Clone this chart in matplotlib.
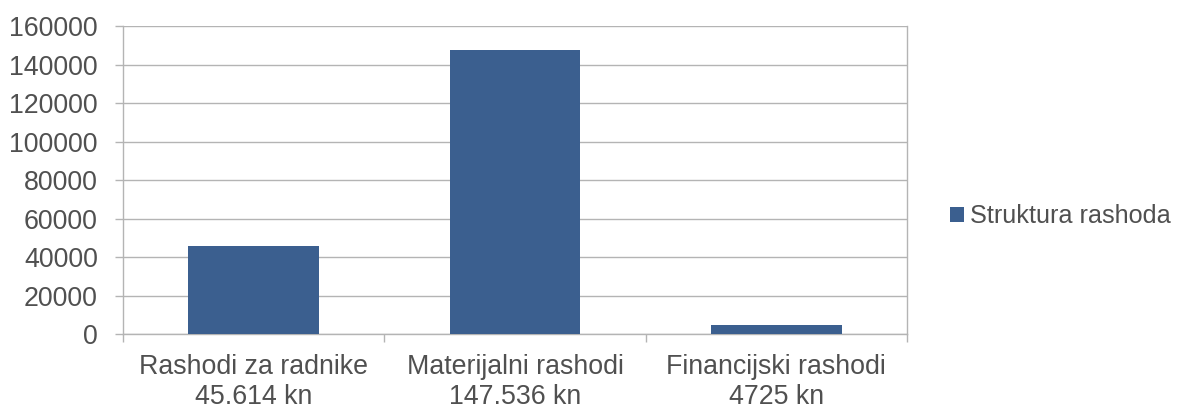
import matplotlib.pyplot as plt
from matplotlib.patches import Patch

# Data
categories = ["Rashodi za radnike\n45.614 kn",
              "Materijalni rashodi\n147.536 kn",
              "Financijski rashodi\n4725 kn"]
values = [45614, 147536, 4725]
series_name = "Struktura rashoda"
yticks = [0, 20000, 40000, 60000, 80000, 100000, 120000, 140000, 160000]

bar_color = "#3b5f8f"
text_color = "#505050"
grid_color = "#b4b4b4"
fs = 19.3

plt.rcParams['font.family'] = ['Liberation Sans', 'DejaVu Sans']

fig = plt.figure(figsize=(11.86, 4.08), dpi=100)
ax = fig.add_axes([0.1037, 0.181, 0.661, 0.755])

x = list(range(len(categories)))
ax.bar(x, values, width=0.5, color=bar_color, zorder=3)

ax.set_xlim(-0.5, len(categories) - 0.5)
ax.set_ylim(0, 160000)
ax.set_yticks(yticks)
ax.set_yticklabels([str(v) for v in yticks])
ax.grid(axis='y', color=grid_color, linewidth=1, zorder=0)

# category labels centered, tick marks on the boundaries
ax.set_xticks(x)
ax.set_xticklabels(categories, linespacing=1.2)
ax.set_xticks([i - 0.5 for i in range(len(categories) + 1)], minor=True)
ax.tick_params(axis='x', which='major', length=0, pad=14,
               labelsize=fs, labelcolor=text_color)
ax.tick_params(axis='x', which='minor', length=6, color=grid_color, width=1)
ax.tick_params(axis='y', length=6, color=grid_color, width=1, pad=12,
               labelsize=fs, labelcolor=text_color)

for side in ['left', 'right', 'bottom']:
    ax.spines[side].set_color(grid_color)
    ax.spines[side].set_linewidth(1)
ax.spines['top'].set_visible(False)

handle = Patch(facecolor=bar_color, edgecolor='none')
leg = fig.legend([handle], [series_name], loc='center left',
                 bbox_to_anchor=(0.782, 0.47), frameon=False,
                 handlelength=0.55, handleheight=0.55, handletextpad=0.25,
                 fontsize=18.2)
for t in leg.get_texts():
    t.set_color(text_color)

fig.savefig("out.png", dpi=100, facecolor='white')
